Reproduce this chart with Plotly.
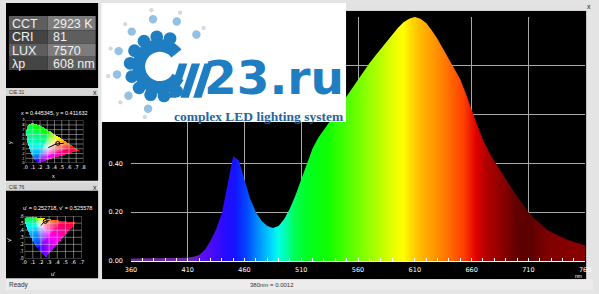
import numpy as np
import plotly.graph_objects as go

W, H = 599, 294

# ---------------- data ----------------
WAVELENGTH = list(range(360, 765, 5))
INTENSITY = [
    0.010, 0.010, 0.010, 0.010, 0.010, 0.010, 0.010, 0.010, 0.010,   # 360-400
    0.011, 0.013, 0.017, 0.025, 0.045, 0.082, 0.130, 0.195, 0.310,   # 405-445
    0.430, 0.412, 0.330, 0.255, 0.200, 0.165, 0.143, 0.135, 0.143,   # 450-490
    0.172, 0.215, 0.270, 0.335, 0.400, 0.462, 0.505, 0.537, 0.568,   # 495-535
    0.600, 0.637, 0.675, 0.710, 0.744, 0.780, 0.810, 0.840, 0.870,   # 540-580
    0.900, 0.930, 0.955, 0.978, 0.993, 1.000, 0.993, 0.975, 0.945,   # 585-625
    0.910, 0.870, 0.830, 0.790, 0.745, 0.685, 0.617, 0.555, 0.497,   # 630-670
    0.450, 0.410, 0.372, 0.335, 0.300, 0.265, 0.232, 0.200, 0.175,   # 675-715
    0.152, 0.133, 0.118, 0.106, 0.096, 0.086, 0.078, 0.071, 0.064,   # 720-760
]
X_TICKS = [360, 410, 460, 510, 560, 610, 660, 710, 760]
Y_TICKS = [0.0, 0.2, 0.4, 0.6, 0.8, 1.0]
Y_TICKTEXT = ["0.00", "0.20", "0.40", "", "", ""]

# colour of the light at each wavelength (fill gradient)
SPEC_NM = [360, 410, 420, 430, 440, 450, 460, 470, 480, 487, 495, 500, 510, 530,
           543, 560, 577, 589, 595, 601, 610, 620, 630, 647, 658, 667, 679, 693,
           705, 720, 760]
SPEC_COLOR = ["#6a2a9a", "#6a2aa8", "#5a12e8", "#4a0cf8", "#2a0aff", "#1414ff",
              "#0048ff", "#0090ff", "#00d0ff", "#00ffe8", "#00ffa0", "#00ff60",
              "#00ff28", "#10ff00", "#40ff00", "#80ff00", "#c0ff00", "#f0ff00",
              "#ffff00", "#ffe000", "#ffb800", "#ff9c00", "#ff7c00", "#ff4000",
              "#e00000", "#b00000", "#900000", "#600000", "#5c0000", "#800000",
              "#8a0000"]

TABLE_LABELS = ["CCT", "CRI", "LUX", "λp"]
TABLE_VALUES = ["2923 K", "81", "7570", "608 nm"]

CIE31_TITLE = "x = 0.445345, y = 0.411632"
CIE76_TITLE = "u' = 0.252718, v' = 0.525578"
POINT_XY = (0.445345, 0.411632)
POINT_UV = (0.252718, 0.525578)

# CIE 1931 spectral locus (x, y)
LOCUS_X = [0.1741, 0.1738, 0.1733, 0.1726, 0.1714, 0.1689, 0.1644, 0.1566, 0.1440,
           0.1241, 0.1096, 0.0913, 0.0687, 0.0454, 0.0235, 0.0082, 0.0039, 0.0139,
           0.0389, 0.0743, 0.1142, 0.1547, 0.2296, 0.3016, 0.3731, 0.4441, 0.5125,
           0.5752, 0.6270, 0.6658, 0.6915, 0.7079, 0.7190, 0.7260, 0.7347]
LOCUS_Y = [0.0050, 0.0049, 0.0048, 0.0048, 0.0051, 0.0069, 0.0109, 0.0177, 0.0297,
           0.0578, 0.0868, 0.1327, 0.2007, 0.2950, 0.4127, 0.5384, 0.6548, 0.7502,
           0.8120, 0.8338, 0.8262, 0.8059, 0.7543, 0.6923, 0.6245, 0.5547, 0.4866,
           0.4242, 0.3725, 0.3340, 0.3083, 0.2920, 0.2809, 0.2740, 0.2653]
# Planckian locus (x, y), 2000K..6500K
PLANCK_X = [0.5267, 0.4770, 0.4369, 0.4053, 0.3805, 0.3451, 0.3135]
PLANCK_Y = [0.4133, 0.4137, 0.4041, 0.3907, 0.3768, 0.3516, 0.3237]

CIE31_XT = [0.0, 0.1, 0.2, 0.3, 0.4, 0.5, 0.6, 0.7, 0.8]
CIE31_YT = [0.0, 0.1, 0.2, 0.3, 0.4, 0.5, 0.6, 0.7, 0.8, 0.9]
CIE76_XT = [0.0, 0.1, 0.2, 0.3, 0.4, 0.5, 0.6, 0.7]
CIE76_YT = [0.0, 0.1, 0.2, 0.3, 0.4, 0.5, 0.6]


# ---------------- helpers ----------------
def px(x):
    return x / W


def py(y):
    return 1 - y / H


shapes = []
annotations = []


def rect(x0, y0, x1, y1, fill, layer="below", line=None):
    shapes.append(dict(type="rect", xref="paper", yref="paper",
                       x0=px(x0), x1=px(x1), y0=py(y1), y1=py(y0),
                       fillcolor=fill, line=line or dict(width=0), layer=layer))


def circle(cx, cy, r, fill, layer="above"):
    shapes.append(dict(type="circle", xref="paper", yref="paper",
                       x0=px(cx - r), x1=px(cx + r), y0=py(cy + r), y1=py(cy - r),
                       fillcolor=fill, line=dict(width=0), layer=layer))


def poly(points, fill, layer="above"):
    d = "M " + " L ".join(f"{px(a):.5f},{py(b):.5f}" for a, b in points) + " Z"
    shapes.append(dict(type="path", xref="paper", yref="paper", path=d,
                       fillcolor=fill, line=dict(width=0), layer=layer))


def text(x, y, s, size, color, xanchor="center", family="Liberation Sans",
         textangle=0, yanchor="middle", weight="normal"):
    annotations.append(dict(x=px(x), y=py(y), xref="paper", yref="paper", text=s,
                            showarrow=False, xanchor=xanchor, yanchor=yanchor,
                            font=dict(size=size, color=color, family=family,
                                      weight=weight),
                            textangle=textangle, borderpad=0))


def inside(xx, yy, polx, poly_):
    res = np.zeros(xx.shape, dtype=bool)
    n = len(polx)
    j = n - 1
    for i in range(n):
        xi, yi, xj, yj = polx[i], poly_[i], polx[j], poly_[j]
        cond = ((yi > yy) != (yj > yy)) & (xx < (xj - xi) * (yy - yi) / (yj - yi + 1e-12) + xi)
        res ^= cond
        j = i
    return res


def xy_to_rgb(x, y):
    y = np.maximum(y, 1e-4)
    X = x / y
    Y = np.ones_like(x)
    Z = (1 - x - y) / y
    R = 3.2406 * X - 1.5372 * Y - 0.4986 * Z
    G = -0.9689 * X + 1.8758 * Y + 0.0415 * Z
    B = 0.0557 * X - 0.2040 * Y + 1.0570 * Z
    rgb = np.clip(np.stack([R, G, B], -1), 0, None)
    m = rgb.max(-1, keepdims=True)
    rgb = rgb / np.maximum(m, 1e-6)
    return rgb ** (1 / 2.2)


def to_uv(x, y):
    x = np.asarray(x, float)
    y = np.asarray(y, float)
    d = -2 * x + 12 * y + 3
    return 4 * x / d, 9 * y / d


def gamut_image(xmax, ymax, step, mode):
    xs = np.arange(0, xmax, step) + step / 2
    ys = np.arange(0, ymax, step) + step / 2
    gx, gy = np.meshgrid(xs, ys)
    if mode == "xy":
        lx, ly = np.array(LOCUS_X), np.array(LOCUS_Y)
        cx, cy = gx, gy
    else:
        lx, ly = to_uv(LOCUS_X, LOCUS_Y)
        d = 6 * gx - 16 * gy + 12
        cx, cy = 9 * gx / d, 4 * gy / d
    mask = inside(gx, gy, lx, ly)
    rgb = xy_to_rgb(cx, cy)
    rgb[~mask] = 0
    return (rgb * 255).astype(np.uint8), step


# ---------------- figure ----------------
fig = go.Figure()

scale = [[(nm - 360) / 400, c] for nm, c in zip(SPEC_NM, SPEC_COLOR)]
fig.add_trace(go.Scatter(
    x=WAVELENGTH, y=INTENSITY, mode="lines", line=dict(width=0),
    fill="tozeroy",
    fillgradient=dict(type="horizontal", colorscale=scale, start=360, stop=760),
    hoverinfo="skip", showlegend=False))

# CIE 1931 diagram
img, st = gamut_image(0.8, 0.9, 0.005, "xy")
fig.add_trace(go.Image(z=img, x0=st / 2, dx=st, y0=st / 2, dy=st,
                       xaxis="x2", yaxis="y2", hoverinfo="skip"))
gx, gy = [], []
for v in CIE31_XT:
    gx += [v, v, None]
    gy += [0, 0.9, None]
for v in CIE31_YT:
    gx += [0, 0.8, None]
    gy += [v, v, None]
fig.add_trace(go.Scatter(x=gx, y=gy, mode="lines", xaxis="x2", yaxis="y2",
                         line=dict(color="rgba(220,220,220,0.8)", width=0.6),
                         hoverinfo="skip", showlegend=False))
fig.add_trace(go.Scatter(x=PLANCK_X, y=PLANCK_Y, mode="lines", xaxis="x2", yaxis="y2",
                         line=dict(color="black", width=1), hoverinfo="skip",
                         showlegend=False))
fig.add_trace(go.Scatter(x=[POINT_XY[0]], y=[POINT_XY[1]], mode="markers",
                         xaxis="x2", yaxis="y2",
                         marker=dict(symbol="circle-open", size=4, color="black"),
                         hoverinfo="skip", showlegend=False))

# CIE 1976 diagram
img2, st2 = gamut_image(0.7, 0.6, 0.005, "uv")
fig.add_trace(go.Image(z=img2, x0=st2 / 2, dx=st2, y0=st2 / 2, dy=st2,
                       xaxis="x3", yaxis="y3", hoverinfo="skip"))
gx, gy = [], []
for v in CIE76_XT:
    gx += [v, v, None]
    gy += [0, 0.6, None]
for v in CIE76_YT:
    gx += [0, 0.7, None]
    gy += [v, v, None]
fig.add_trace(go.Scatter(x=gx, y=gy, mode="lines", xaxis="x3", yaxis="y3",
                         line=dict(color="rgba(220,220,220,0.8)", width=0.6),
                         hoverinfo="skip", showlegend=False))
pu, pv = to_uv(PLANCK_X, PLANCK_Y)
fig.add_trace(go.Scatter(x=list(pu), y=list(pv), mode="lines", xaxis="x3", yaxis="y3",
                         line=dict(color="black", width=1), hoverinfo="skip",
                         showlegend=False))
fig.add_trace(go.Scatter(x=[POINT_UV[0]], y=[POINT_UV[1]], mode="markers",
                         xaxis="x3", yaxis="y3",
                         marker=dict(symbol="circle-open", size=4, color="black"),
                         hoverinfo="skip", showlegend=False))

# ---------------- window chrome ----------------
rect(98, 8, 592, 283, "#000000")            # main canvas
rect(0, 0, 94, 87, "#000000")               # info panel
rect(0, 95, 94, 182, "#000000")             # CIE 31 panel
rect(0, 192, 94, 282, "#000000")            # CIE 76 panel
rect(0, 87, 94, 95, "#d6d6d6")
rect(0, 184, 94, 192, "#d6d6d6")
rect(0, 283, 599, 294, "#ececec")
rect(347, 0, 599, 8, "#e2e2e2")

# info table
row_edges = [13.3, 27.9, 41.5, 55.1, 68.7]
label_bg = ["#5e5e5e", "#444444", "#5e5e5e", "#444444"]
value_bg = ["#7c7c7c", "#5e5e5e", "#7c7c7c", "#5e5e5e"]
for i, (lab, val) in enumerate(zip(TABLE_LABELS, TABLE_VALUES)):
    y0, y1 = row_edges[i], row_edges[i + 1]
    rect(3, y0, 42.5, y1, label_bg[i])
    rect(42.5, y0, 91.5, y1, value_bg[i])
    text(5, (y0 + y1) / 2 + 0.5, lab, 12.5, "#f0f0f0", xanchor="left")
    text(46.5, (y0 + y1) / 2 + 0.5, val, 12.5, "#f0f0f0", xanchor="left")

# panel titles
text(2, 91, "CIE 31", 5, "#333333", xanchor="left")
text(91, 91.5, "x", 7, "#222222")
text(2, 188, "CIE 76", 5, "#333333", xanchor="left")
text(91, 188.5, "x", 7, "#222222")
text(595, 4, "x", 7, "#222222")
text(50, 112.7, CIE31_TITLE, 5.5, "white")
text(53, 210, CIE76_TITLE, 5.5, "white")
text(48, 177, "x", 5.5, "white")
text(3.5, 143, "y", 5.5, "white", textangle=-90)
text(48, 277.5, "u'", 5.5, "white")
text(3.5, 242, "v'", 5.5, "white", textangle=-90)
text(584, 279.5, "nm", 5, "white")
text(2, 289, "Ready", 6.5, "#333333", xanchor="left")
text(271, 288.5, "380nm = 0.0012", 6, "#333333")

# ---------------- logo ----------------
rect(97.5, 0, 347, 122, "#ffffff", layer="above")
BLUE = "#1f7ec2"
LIGHT = "#93c0e3"
PALE = "#d8d8d8"
cx, cy = 157, 65
for (dx_, dy_) in [(148.3, 7.3), (177.7, 10), (121.7, 21.7), (201.7, 25.7), (106.7, 46.7),
                   (104.3, 75), (116.7, 101.7), (141.7, 116.7)]:
    circle(dx_, dy_, 2.2, PALE)
for (dx_, dy_) in [(150, 16.7), (174.3, 19), (128.3, 29.3), (194.3, 32.3), (115, 49.3),
                   (113.3, 73.3), (125, 95), (145, 108.3)]:
    circle(dx_, dy_, 4.3, LIGHT)
for ang in [70, 96, 122, 148, 174, 200, 226, 252, 278, 304]:
    a = np.radians(ang)
    circle(cx + 30.5 * np.cos(a), cy - 30.5 * np.sin(a), 6.5, BLUE)
angs = np.radians(np.linspace(38, 330, 60))
outer = [(cx + 28 * np.cos(a), cy - 28 * np.sin(a)) for a in angs]
inner = [(cx + 15 * np.cos(a), cy - 15 * np.sin(a)) for a in angs[::-1]]
poly(outer + inner, BLUE)
for bx in [165, 178, 191]:
    poly([(bx, 97), (bx + 8.5, 97), (bx + 20, 62), (bx + 11.5, 62)], BLUE)
text(346, 105, "23.ru", 47, BLUE, xanchor="right", yanchor="bottom",
     family="DejaVu Sans", weight="bold")
text(258, 116, "complex LED lighting system", 13.5, "#28649e",
     family="Liberation Serif", weight="bold")

# ---------------- layout ----------------
tickfont = dict(size=6.5, color="white", family="DejaVu Sans")
small = dict(size=5, color="white", family="DejaVu Sans")
fig.update_layout(
    width=W, height=H, autosize=False,
    margin=dict(l=0, r=0, t=0, b=0, pad=0),
    paper_bgcolor="#e4e4e4", plot_bgcolor="rgba(0,0,0,0)",
    showlegend=False,
    shapes=shapes, annotations=annotations,
    xaxis=dict(domain=[127.5 / W, 591 / W], range=[360, 760], tickvals=X_TICKS,
               ticktext=[str(v) for v in X_TICKS], tickfont=tickfont,
               showgrid=True, gridcolor="#a8a8a8", gridwidth=1,
               ticks="inside", ticklen=3, tickcolor="white",
               minor=dict(dtick=10, tick0=360, ticks="inside", ticklen=3,
                          tickcolor="white", showgrid=False),
               showline=True, linecolor="white", linewidth=1, zeroline=False,
               ticklabelstandoff=2, fixedrange=True),
    yaxis=dict(domain=[py(264.3), py(14.3)], range=[0, 1], tickvals=Y_TICKS,
               ticktext=Y_TICKTEXT, tickfont=tickfont, showgrid=True,
               gridcolor="#a8a8a8", gridwidth=1, zeroline=False, showline=False,
               ticks="", ticklabelstandoff=7, fixedrange=True),
    xaxis2=dict(domain=[px(20), px(79)], range=[0, 0.8], anchor="y2",
                tickvals=CIE31_XT, ticktext=["." + str(int(round(v * 10))) for v in CIE31_XT],
                tickfont=small, showgrid=False, zeroline=False, ticks="", fixedrange=True),
    yaxis2=dict(domain=[py(164), py(120)], range=[0, 0.9], anchor="x2",
                tickvals=CIE31_YT, ticktext=["." + str(int(round(v * 10))) for v in CIE31_YT],
                tickfont=dict(size=3.5, color="white"), showgrid=False, zeroline=False,
                ticks="", fixedrange=True, scaleanchor=False, autorange=False),
    xaxis3=dict(domain=[px(19), px(77.3)], range=[0, 0.7], anchor="y3",
                tickvals=CIE76_XT, ticktext=["." + str(int(round(v * 10))) for v in CIE76_XT],
                tickfont=small, showgrid=False, zeroline=False, ticks="", fixedrange=True),
    yaxis3=dict(domain=[py(261.7), py(218.3)], range=[0, 0.6], anchor="x3",
                tickvals=CIE76_YT, ticktext=["." + str(int(round(v * 10))) for v in CIE76_YT],
                tickfont=dict(size=4.5, color="white"), showgrid=False, zeroline=False,
                ticks="", fixedrange=True, scaleanchor=False, autorange=False),
)

fig.write_html("out.html")
